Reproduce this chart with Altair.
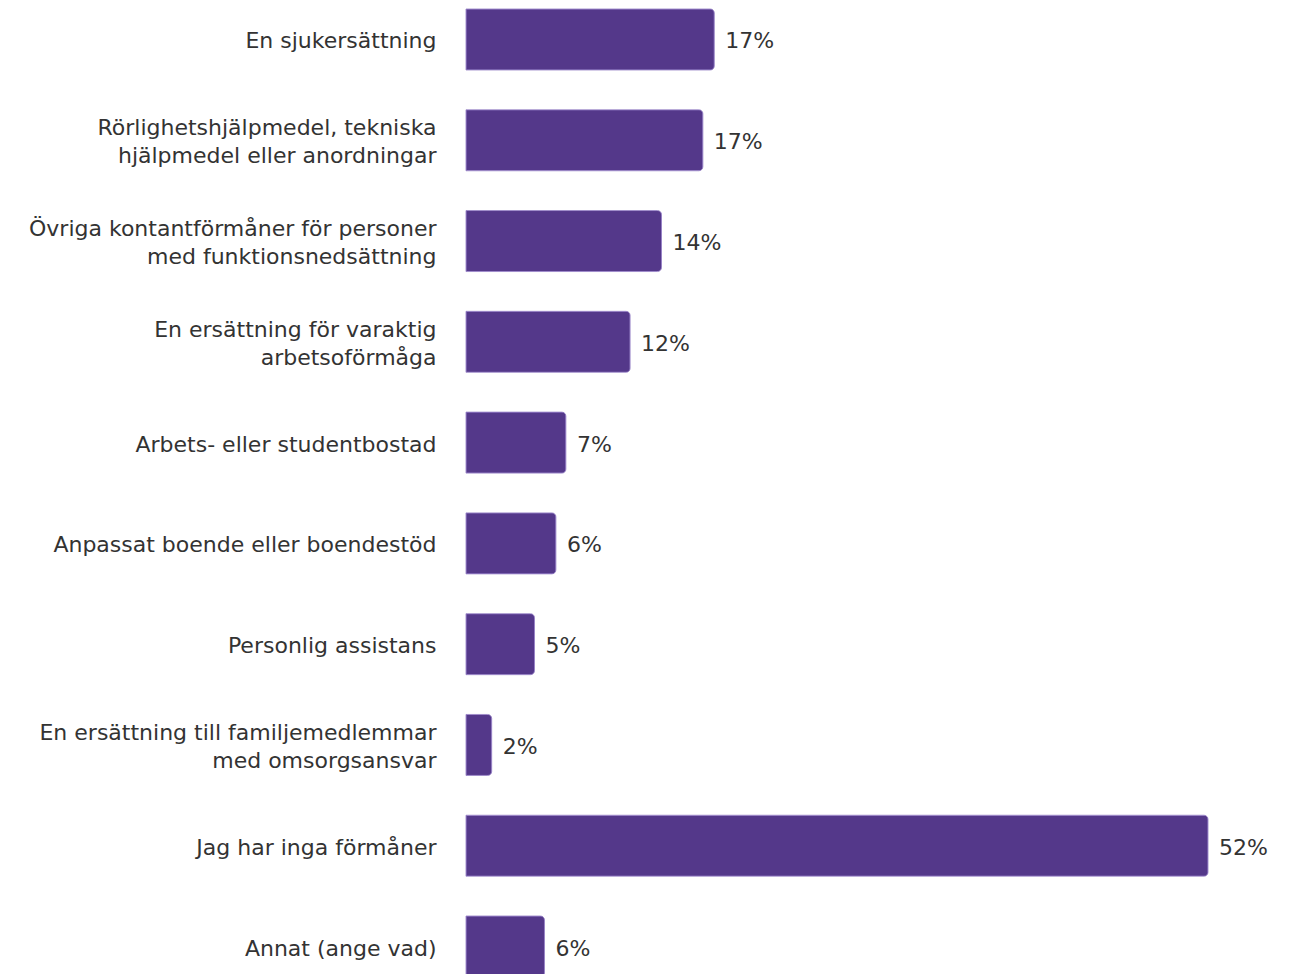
import altair as alt
import pandas as pd

categories = [
    "En sjukersättning",
    "Rörlighetshjälpmedel, tekniska\nhjälpmedel eller anordningar",
    "Övriga kontantförmåner för personer\nmed funktionsnedsättning",
    "En ersättning för varaktig\narbetsoförmåga",
    "Arbets- eller studentbostad",
    "Anpassat boende eller boendestöd",
    "Personlig assistans",
    "En ersättning till familjemedlemmar\nmed omsorgsansvar",
    "Jag har inga förmåner",
    "Annat (ange vad)",
]
values = [17.4, 16.6, 13.7, 11.5, 7.0, 6.3, 4.8, 1.8, 52.0, 5.5]
value_labels = ["17%", "17%", "14%", "12%", "7%", "6%", "5%", "2%", "52%", "6%"]

df = pd.DataFrame({"cat": categories, "val": values, "lbl": value_labels})

FONT = "DejaVu Sans"
TXT = "#333333"
BAR = "#54388a"

y = alt.Y(
    "cat:N",
    sort=categories,
    scale=alt.Scale(paddingInner=0.395, paddingOuter=0),
    axis=alt.Axis(
        title=None,
        domain=False,
        ticks=False,
        labelPadding=30,
        labelFont=FONT,
        labelFontSize=22,
        labelColor=TXT,
        labelLimit=600,
        labelLineHeight=28,
        labelExpr="split(datum.label, '\\n')",
        labelOffset={"expr": "indexof(datum.label, '\\n') >= 0 ? -12 : 2"},
    ),
)
x = alt.X(
    "val:Q",
    scale=alt.Scale(domain=[0, 52], nice=False),
    axis=None,
)

bars = alt.Chart(df).mark_bar(
    color=BAR,
    stroke="#8f78c2",
    strokeWidth=0.8,
    cornerRadiusTopRight=4,
    cornerRadiusBottomRight=4,
).encode(x=x, y=y)

text = alt.Chart(df).mark_text(
    align="left",
    baseline="middle",
    dx=11,
    dy=2,
    font=FONT,
    fontSize=22,
    color=TXT,
).encode(x=x, y=y, text="lbl:N")

chart = (
    (bars + text)
    .properties(width=742, height=968, padding={"top": 0, "left": 20, "right": 0, "bottom": 0})
    .configure_view(stroke=None)
)

chart.save("out.html", embed_options={"renderer": "svg", "actions": False})
